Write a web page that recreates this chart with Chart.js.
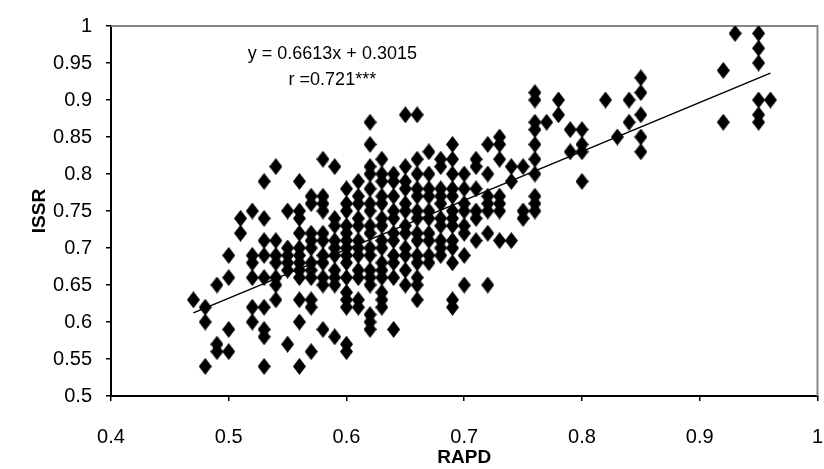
<!DOCTYPE html>
<html>
<head>
<meta charset="utf-8">
<title>ISSR vs RAPD</title>
<script src="https://cdn.jsdelivr.net/npm/chart.js@4.4.1/dist/chart.umd.min.js"></script>
<style>
    html, body { margin: 0; padding: 0; background: #fff; overflow: hidden; }
    canvas { display: block; }
</style>
</head>
<body>
<canvas id="scatterChart" width="824" height="469"></canvas>
<script>
// RAPD similarity values (x), one entry per column of points
const rapdValues = [
    0.47, 0.48, 0.49, 0.50, 0.51, 0.52, 0.53, 0.54, 0.55, 0.56,
    0.57, 0.58, 0.59, 0.60, 0.61, 0.62, 0.63, 0.64, 0.65, 0.66,
    0.67, 0.68, 0.69, 0.70, 0.71, 0.72, 0.73, 0.74, 0.75, 0.76,
    0.77, 0.78, 0.79, 0.80, 0.82, 0.83, 0.84, 0.85, 0.92, 0.93,
    0.95, 0.96
];

// ISSR similarity values (y) found at each RAPD value above
const issrValues = [
    [0.63],
    [0.62, 0.60, 0.54],
    [0.65, 0.57, 0.56],
    [0.69, 0.66, 0.59, 0.56],
    [0.74, 0.72],
    [0.75, 0.69, 0.68, 0.66, 0.62, 0.60],
    [0.79, 0.74, 0.71, 0.69, 0.66, 0.62, 0.59, 0.58, 0.54],
    [0.81, 0.71, 0.69, 0.68, 0.66, 0.65, 0.63],
    [0.75, 0.70, 0.69, 0.68, 0.67, 0.57],
    [0.79, 0.75, 0.74, 0.72, 0.70, 0.69, 0.68, 0.67, 0.66, 0.63, 0.60, 0.54],
    [0.77, 0.76, 0.72, 0.71, 0.70, 0.68, 0.67, 0.66, 0.63, 0.62, 0.56],
    [0.82, 0.77, 0.76, 0.75, 0.72, 0.71, 0.69, 0.68, 0.66, 0.65, 0.59],
    [0.81, 0.74, 0.73, 0.71, 0.70, 0.69, 0.67, 0.66, 0.65, 0.58],
    [0.78, 0.76, 0.75, 0.73, 0.72, 0.71, 0.70, 0.69, 0.68, 0.66, 0.64, 0.63, 0.62, 0.57, 0.56],
    [0.79, 0.77, 0.76, 0.74, 0.73, 0.71, 0.70, 0.69, 0.67, 0.66, 0.63, 0.62],
    [0.87, 0.84, 0.81, 0.80, 0.78, 0.76, 0.75, 0.73, 0.72, 0.70, 0.69, 0.67, 0.66, 0.65, 0.61, 0.60, 0.59],
    [0.82, 0.80, 0.79, 0.77, 0.76, 0.74, 0.73, 0.71, 0.70, 0.68, 0.67, 0.66, 0.64, 0.63, 0.62],
    [0.80, 0.79, 0.77, 0.75, 0.74, 0.72, 0.71, 0.69, 0.68, 0.66, 0.59],
    [0.88, 0.81, 0.79, 0.78, 0.76, 0.75, 0.73, 0.72, 0.70, 0.69, 0.67, 0.65],
    [0.88, 0.82, 0.80, 0.78, 0.77, 0.75, 0.74, 0.72, 0.71, 0.69, 0.68, 0.66, 0.65, 0.63],
    [0.83, 0.80, 0.78, 0.77, 0.75, 0.74, 0.72, 0.71, 0.69, 0.68],
    [0.82, 0.81, 0.78, 0.77, 0.76, 0.74, 0.73, 0.71, 0.70, 0.69],
    [0.84, 0.82, 0.80, 0.78, 0.77, 0.75, 0.74, 0.73, 0.71, 0.70, 0.68, 0.63, 0.62],
    [0.80, 0.78, 0.76, 0.75, 0.73, 0.72, 0.69, 0.65],
    [0.82, 0.81, 0.78, 0.75, 0.74, 0.71],
    [0.84, 0.80, 0.77, 0.76, 0.75, 0.72, 0.65],
    [0.85, 0.84, 0.82, 0.77, 0.76, 0.75, 0.71],
    [0.81, 0.79, 0.71],
    [0.81, 0.75, 0.74],
    [0.91, 0.90, 0.87, 0.86, 0.84, 0.82, 0.80, 0.77, 0.76, 0.75],
    [0.87],
    [0.90, 0.88],
    [0.86, 0.83],
    [0.86, 0.84, 0.83, 0.79],
    [0.90],
    [0.85],
    [0.90, 0.87],
    [0.93, 0.91, 0.88, 0.85, 0.83],
    [0.94, 0.87],
    [0.99],
    [0.99, 0.97, 0.95, 0.90, 0.88, 0.87],
    [0.90]
];

// fitted trend line
const fitSlope = 0.6613;
const fitIntercept = 0.3015;
const fitRange = [0.47, 0.96];
const equationText = 'y = 0.6613x + 0.3015';
const correlationText = 'r =0.721***';

const fontFamily = '"Liberation Sans", Arial, sans-serif';

function formatTick(value) {
    return Number(value.toFixed(2)).toString();
}

// Excel-like marker: a diamond a bit taller than wide
function makeDiamond(w, h) {
    const c = document.createElement('canvas');
    c.width = w;
    c.height = h;
    const g = c.getContext('2d');
    g.fillStyle = '#000';
    g.beginPath();
    g.moveTo(w / 2, 0);
    g.lineTo(w, h / 2);
    g.lineTo(w / 2, h);
    g.lineTo(0, h / 2);
    g.closePath();
    g.fill();
    return c;
}

const scatterPoints = [];
rapdValues.forEach((x, i) => {
    issrValues[i].forEach(y => {
        scatterPoints.push({ x: x, y: y });
    });
});

const fitPoints = fitRange.map(x => ({ x: x, y: fitSlope * x + fitIntercept }));

const frameAndLabels = {
    id: 'frameAndLabels',
    beforeDatasetsDraw(chart) {
        const { ctx, chartArea } = chart;
        ctx.save();
        ctx.strokeStyle = '#868686';
        ctx.lineWidth = 2;
        ctx.beginPath();
        ctx.moveTo(chartArea.left, chartArea.top);
        ctx.lineTo(chartArea.right, chartArea.top);
        ctx.lineTo(chartArea.right, chartArea.bottom);
        ctx.stroke();
        ctx.restore();
    },
    afterDraw(chart) {
        const { ctx, scales } = chart;
        ctx.save();
        ctx.fillStyle = '#000';
        ctx.font = '18px ' + fontFamily;
        ctx.textAlign = 'center';
        ctx.textBaseline = 'middle';
        const cx = scales.x.getPixelForValue(0.588);
        ctx.fillText(equationText, cx, scales.y.getPixelForValue(0.962));
        ctx.fillText(correlationText, cx, scales.y.getPixelForValue(0.927));
        ctx.restore();
    }
};

const ctx = document.getElementById('scatterChart').getContext('2d');

new Chart(ctx, {
    type: 'scatter',
    data: {
        datasets: [{
            label: 'Trend',
            data: fitPoints,
            showLine: true,
            borderColor: '#000',
            borderWidth: 1.5,
            pointRadius: 0,
            fill: false
        }, {
            label: 'ISSR vs RAPD',
            data: scatterPoints,
            pointStyle: makeDiamond(13, 17),
            pointRadius: 6.5,
            backgroundColor: '#000',
            borderColor: '#000',
            borderWidth: 0
        }]
    },
    options: {
        responsive: false,
        animation: false,
        devicePixelRatio: 1,
        layout: {
            padding: { top: 20, right: 2, left: 0, bottom: 0 }
        },
        plugins: {
            legend: { display: false },
            tooltip: { enabled: false },
            title: { display: false }
        },
        scales: {
            x: {
                type: 'linear',
                min: 0.4,
                max: 1,
                ticks: {
                    stepSize: 0.1,
                    color: '#000',
                    font: { family: fontFamily, size: 20 },
                    padding: 24,
                    maxRotation: 0,
                    callback: formatTick
                },
                grid: {
                    drawOnChartArea: false,
                    drawTicks: true,
                    tickLength: 5,
                    color: '#000',
                    lineWidth: 1.5
                },
                border: { color: '#000', width: 2 },
                title: {
                    display: true,
                    text: 'RAPD',
                    color: '#000',
                    font: { family: fontFamily, size: 19, weight: 'bold' },
                    padding: { top: 0, bottom: 0 }
                },
                afterFit(scale) {
                    scale.height = 73;
                    scale.paddingLeft = 0;
                    scale.paddingRight = 0;
                }
            },
            y: {
                type: 'linear',
                min: 0.5,
                max: 1,
                ticks: {
                    stepSize: 0.05,
                    color: '#000',
                    font: { family: fontFamily, size: 20 },
                    padding: 14,
                    callback: formatTick
                },
                grid: {
                    drawOnChartArea: false,
                    drawTicks: true,
                    tickLength: 5,
                    color: '#000',
                    lineWidth: 1.5
                },
                border: { color: '#000', width: 2 },
                title: {
                    display: true,
                    text: 'ISSR',
                    color: '#000',
                    font: { family: fontFamily, size: 19, weight: 'bold' },
                    padding: { top: 28, bottom: 0 }
                },
                afterFit(scale) {
                    scale.width = 111;
                }
            }
        }
    },
    plugins: [frameAndLabels]
});
</script>
</body>
</html>
